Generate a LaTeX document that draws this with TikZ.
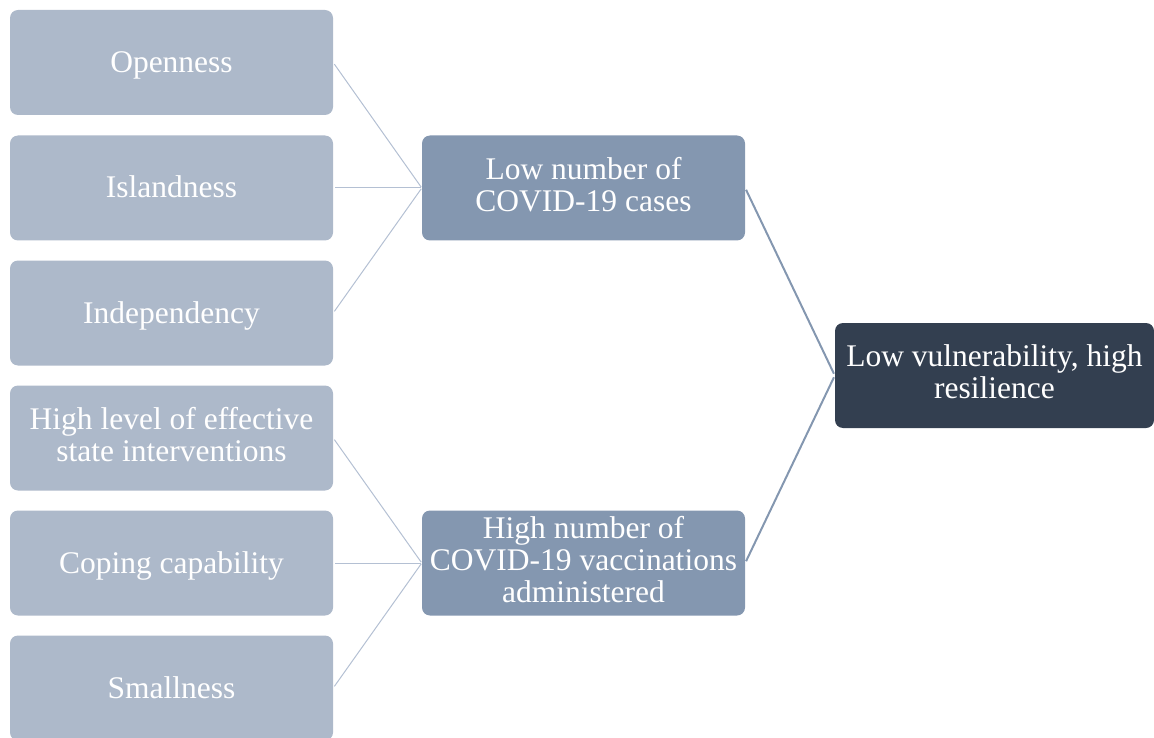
\documentclass[tikz,border=0pt]{standalone}
\usepackage{fontspec}
\setmainfont{Liberation Serif}
\definecolor{lightbox}{HTML}{ADB9CA}
\definecolor{midbox}{HTML}{8497B0}
\definecolor{darkbox}{HTML}{333F50}
\definecolor{lightline}{HTML}{B4C0D3}
\tikzset{
  box/.style={draw=none, rounded corners=8pt, minimum width=323pt, minimum height=105pt,
    inner sep=0pt, text=white, align=center, font=\fontsize{31.5}{32}\selectfont,
    execute at begin node={\rule{0pt}{28pt}},
    execute at end node={\rule[-8pt]{0pt}{8pt}}},
  leftbox/.style={box, fill=lightbox},
  midnode/.style={box, fill=midbox},
  topnode/.style={box, fill=darkbox, minimum width=319pt},
  thinlink/.style={draw=lightline, line width=1pt, shorten <=2pt, shorten >=1pt},
  thicklink/.style={draw=midbox, line width=2pt, shorten <=2pt, shorten >=2pt}
}
\begin{document}
\begin{tikzpicture}[x=1pt, y=-1pt]
\useasboundingbox (0,0) rectangle (1154,738);
\node[leftbox] (o) at (171.5,62.5) {Openness};
\node[leftbox] (i) at (171.5,188) {Islandness};
\node[leftbox] (d) at (171.5,313) {Independency};
\node[leftbox] (h) at (171.5,438) {High level of effective\\state interventions};
\node[leftbox] (c) at (171.5,563) {Coping capability};
\node[leftbox] (s) at (171.5,688) {Smallness};
\node[midnode] (m1) at (583.5,188) {Low number of\\COVID-19 cases};
\node[midnode] (m2) at (583.5,563) {High number of\\COVID-19 vaccinations\\administered};
\node[topnode] (r) at (994.5,375.5) {Low vulnerability, high\\resilience};
\draw[thinlink] (o.east) -- (m1.west);
\draw[thinlink] (i.east) -- (m1.west);
\draw[thinlink] (d.east) -- (m1.west);
\draw[thinlink] (h.east) -- (m2.west);
\draw[thinlink] (c.east) -- (m2.west);
\draw[thinlink] (s.east) -- (m2.west);
\draw[thicklink] (m1.east) -- (r.west);
\draw[thicklink] (m2.east) -- (r.west);
\end{tikzpicture}
\end{document}
